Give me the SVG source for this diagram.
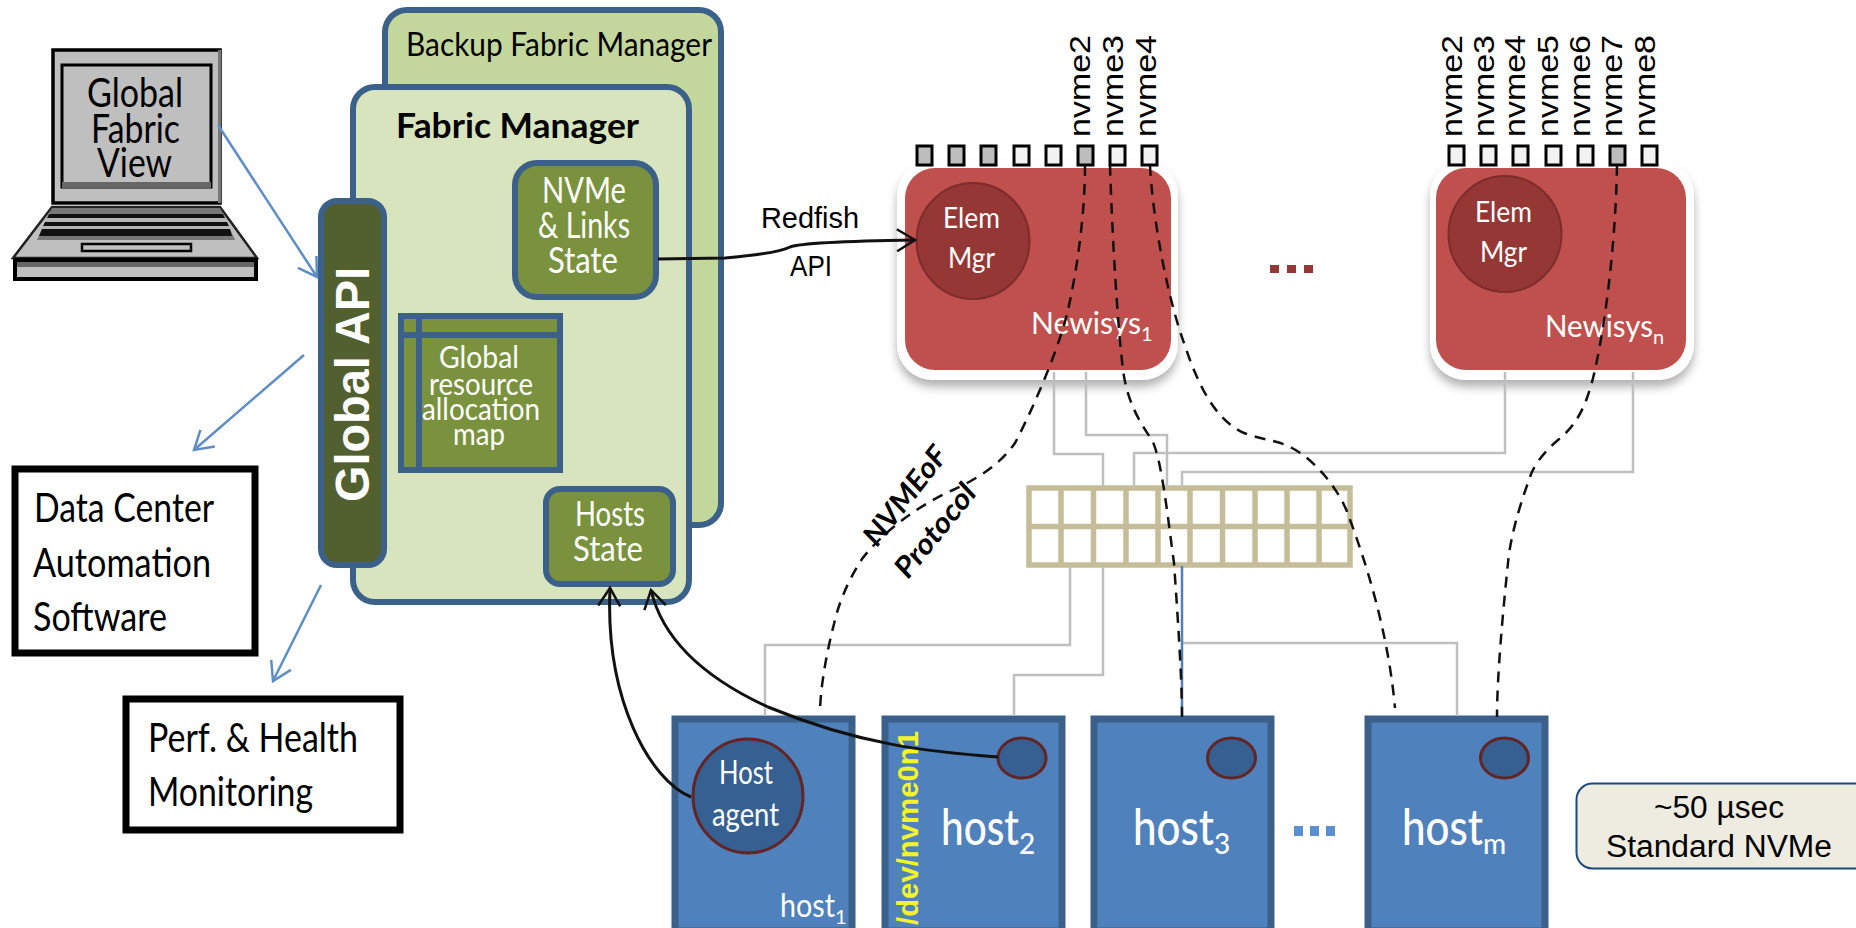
<svg xmlns="http://www.w3.org/2000/svg" width="1856" height="928" viewBox="0 0 1856 928">
<style>
text{font-family:"Lato","Liberation Sans",sans-serif}
.k{fill:#000}.w{fill:#fff}
.box{stroke:#3b6089;stroke-width:6}
.g{fill:#7a923e}
.gray{fill:none;stroke:#bfbfbf;stroke-width:2.5}
.dash{fill:none;stroke:#111;stroke-width:2.5;stroke-dasharray:11 8}
.blue{fill:none;stroke:#5f8ec6;stroke-width:2.5;marker-end:url(#ab)}
.blk{fill:none;stroke:#111;stroke-width:3;marker-end:url(#ak)}
.sq{fill:#f2f2f2;stroke:#000;stroke-width:3}
.sq .d{fill:#bdbdbd}
.nv{font-family:"Liberation Sans",sans-serif;font-size:30px;fill:#000}
.host{fill:#4f81bd;stroke:#3b6089;stroke-width:7}
.c{fill:#376092;stroke:#632523;stroke-width:3}
.halo{fill:#fff;filter:url(#sh)}
.red{fill:#c0504d}
.rc{fill:#953735;stroke:#7d2d2b;stroke-width:2}
.sw{fill:none;stroke:#c4bd97;stroke-width:5.5}
.blackbox{fill:#fff;stroke:#000;stroke-width:7}
</style>
<defs>
<filter id="sh" x="-10%" y="-10%" width="120%" height="125%"><feDropShadow dx="0" dy="7" stdDeviation="5" flood-color="#000" flood-opacity="0.3"/></filter>
<marker id="ab" markerUnits="userSpaceOnUse" markerWidth="30" markerHeight="30" refX="20" refY="12" orient="auto"><path d="M2 1 L20 12 L2 23" fill="none" stroke="#5f8ec6" stroke-width="2.5"/></marker>
<marker id="ak" markerUnits="userSpaceOnUse" markerWidth="30" markerHeight="30" refX="20" refY="12" orient="auto"><path d="M2 1 L20 12 L2 23" fill="none" stroke="#111" stroke-width="2.5"/></marker>
</defs>

<g id="laptop">
<rect x="53" y="50" width="167" height="153" fill="#bfbfbf" stroke="#000" stroke-width="3.5"/>
<rect x="218" y="50" width="3" height="153" fill="#777"/>
<rect x="62" y="65" width="149" height="122" fill="#bfbfbf" stroke="#000" stroke-width="3"/>
<rect x="62" y="182" width="149" height="6" fill="#666"/>
<path d="M52 207H220L257 258H13Z" fill="#bfbfbf" stroke="#222" stroke-width="2.5"/>
<path d="M52 208H220L235 240H37Z" fill="#777"/>
<path d="M49 214H223L225 218H47Z M45 222H227L229 226H43Z" fill="#111"/>
<path d="M42 229H230L232 236H39Z" fill="#111"/>
<path d="M46 218H226L227 222H45Z M43 226H229L230 229H42Z" fill="#b5b5b5"/>
<rect x="82" y="244" width="109" height="7" fill="#bfbfbf" stroke="#000" stroke-width="2.5"/>
<rect x="15" y="260" width="241" height="19" fill="#bfbfbf" stroke="#000" stroke-width="4"/>
<rect x="17" y="262" width="237" height="5" fill="#666"/>
<text font-size="40" class="k"><tspan x="87" y="107" textLength="96" lengthAdjust="spacingAndGlyphs">Global</tspan><tspan x="91" y="143" textLength="89" lengthAdjust="spacingAndGlyphs">Fabric</tspan><tspan x="97" y="177" textLength="75" lengthAdjust="spacingAndGlyphs">View</tspan></text>
</g>

<g id="backup-fabric-manager">
<rect x="385" y="10" width="336" height="515" rx="22" fill="#c3d69b" class="box"/>
<text x="406" y="56" font-size="33" class="k" textLength="306" lengthAdjust="spacingAndGlyphs">Backup Fabric Manager</text>
</g>

<g id="fabric-manager">
<rect x="353" y="87" width="336" height="515" rx="22" fill="#d7e4bd" class="box"/>
<text x="396" y="138" font-size="35" font-weight="700" class="k" textLength="243" lengthAdjust="spacingAndGlyphs">Fabric Manager</text>
</g>

<g id="nvme-links-state">
<rect x="515" y="163" width="141" height="134" rx="22" class="g box"/>
<text font-size="36" class="w"><tspan x="542" y="203" textLength="84" lengthAdjust="spacingAndGlyphs">NVMe</tspan><tspan x="538" y="238" textLength="92" lengthAdjust="spacingAndGlyphs">&amp; Links</tspan><tspan x="548" y="273" textLength="70" lengthAdjust="spacingAndGlyphs">State</tspan></text>
</g>

<g id="global-resource-allocation-map">
<rect x="401" y="316" width="159" height="154" class="g box" stroke-width="5"/>
<path d="M401 335H560M419 316V470" fill="none" class="box" stroke-width="5"/>
<text font-size="30" class="w"><tspan x="439" y="368" textLength="80" lengthAdjust="spacingAndGlyphs">Global</tspan><tspan x="429" y="395" textLength="104" lengthAdjust="spacingAndGlyphs">resource</tspan><tspan x="422" y="420" textLength="118" lengthAdjust="spacingAndGlyphs">allocation</tspan><tspan x="453" y="445" textLength="52" lengthAdjust="spacingAndGlyphs">map</tspan></text>
</g>

<g id="hosts-state">
<rect x="546" y="489" width="127" height="95" rx="14" class="g box"/>
<text font-size="34" class="w"><tspan x="575" y="526" textLength="70" lengthAdjust="spacingAndGlyphs">Hosts</tspan><tspan x="573" y="561" textLength="70" lengthAdjust="spacingAndGlyphs">State</tspan></text>
</g>

<g id="global-api">
<rect x="321" y="201" width="63" height="364" rx="16" fill="#525f2e" class="box"/>
<text transform="translate(369 502) rotate(-90)" style="font-family:'Liberation Sans',sans-serif" font-weight="700" font-size="48" class="w" textLength="235" lengthAdjust="spacingAndGlyphs">Global API</text>
</g>

<g id="data-center">
<rect x="15" y="469" width="240" height="184" class="blackbox"/>
<text x="34" y="522" font-size="40" class="k" textLength="180" lengthAdjust="spacingAndGlyphs">Data Center</text>
<text x="33" y="577" font-size="40" class="k" textLength="178" lengthAdjust="spacingAndGlyphs">Automation</text>
<text x="33" y="631" font-size="40" class="k" textLength="134" lengthAdjust="spacingAndGlyphs">Software</text>
</g>

<g id="perf-health">
<rect x="126" y="699" width="274" height="131" class="blackbox"/>
<text x="148" y="752" font-size="40" class="k" textLength="210" lengthAdjust="spacingAndGlyphs">Perf. &amp; Health</text>
<text x="148" y="806" font-size="40" class="k" textLength="165" lengthAdjust="spacingAndGlyphs">Monitoring</text>
</g>

<g id="newisys-1">
<rect x="897" y="160" width="281" height="220" rx="36" class="halo"/>
<rect x="905" y="168" width="266" height="202" rx="30" class="red"/>
<ellipse cx="973" cy="241" rx="56.500" ry="58" class="rc"/>
<text x="943" y="228" font-size="29" class="w" textLength="57" lengthAdjust="spacingAndGlyphs">Elem</text>
<text x="948" y="268" font-size="29" class="w" textLength="47" lengthAdjust="spacingAndGlyphs">Mgr</text>
<text x="1031" y="334" font-size="31" class="w"><tspan textLength="110" lengthAdjust="spacingAndGlyphs">Newisys</tspan><tspan dy="7" font-size="20">1</tspan></text>
<g class="sq">
<rect class="d" x="917" y="146" width="15" height="19"/><rect class="d" x="949" y="146" width="15" height="19"/><rect class="d" x="981" y="146" width="15" height="19"/><rect x="1014" y="146" width="15" height="19"/><rect x="1046" y="146" width="15" height="19"/><rect class="d" x="1078" y="146" width="15" height="19"/><rect x="1110" y="146" width="15" height="19"/><rect x="1142" y="146" width="15" height="19"/>
</g>
<text class="nv" transform="translate(1090 137) rotate(-90)" textLength="102" lengthAdjust="spacingAndGlyphs">nvme2</text>
<text class="nv" transform="translate(1123 137) rotate(-90)" textLength="102" lengthAdjust="spacingAndGlyphs">nvme3</text>
<text class="nv" transform="translate(1156 137) rotate(-90)" textLength="102" lengthAdjust="spacingAndGlyphs">nvme4</text>
</g>

<g id="newisys-n">
<rect x="1430" y="160" width="264" height="220" rx="36" class="halo"/>
<rect x="1436" y="168" width="250" height="202" rx="30" class="red"/>
<ellipse cx="1505" cy="234" rx="56.500" ry="58" class="rc"/>
<text x="1475" y="222" font-size="29" class="w" textLength="57" lengthAdjust="spacingAndGlyphs">Elem</text>
<text x="1480" y="262" font-size="29" class="w" textLength="47" lengthAdjust="spacingAndGlyphs">Mgr</text>
<text x="1545" y="337" font-size="31" class="w"><tspan textLength="108" lengthAdjust="spacingAndGlyphs">Newisys</tspan><tspan dy="7" font-size="20">n</tspan></text>
<g class="sq">
<rect x="1449" y="146" width="15" height="19"/><rect x="1481" y="146" width="15" height="19"/><rect x="1513" y="146" width="15" height="19"/><rect x="1546" y="146" width="15" height="19"/><rect x="1578" y="146" width="15" height="19"/><rect class="d" x="1610" y="146" width="15" height="19"/><rect x="1642" y="146" width="15" height="19"/>
</g>
<text class="nv" transform="translate(1462 137) rotate(-90)" textLength="102" lengthAdjust="spacingAndGlyphs">nvme2</text>
<text class="nv" transform="translate(1494 137) rotate(-90)" textLength="102" lengthAdjust="spacingAndGlyphs">nvme3</text>
<text class="nv" transform="translate(1525 137) rotate(-90)" textLength="102" lengthAdjust="spacingAndGlyphs">nvme4</text>
<text class="nv" transform="translate(1558 137) rotate(-90)" textLength="102" lengthAdjust="spacingAndGlyphs">nvme5</text>
<text class="nv" transform="translate(1590 137) rotate(-90)" textLength="102" lengthAdjust="spacingAndGlyphs">nvme6</text>
<text class="nv" transform="translate(1622 137) rotate(-90)" textLength="102" lengthAdjust="spacingAndGlyphs">nvme7</text>
<text class="nv" transform="translate(1655 137) rotate(-90)" textLength="102" lengthAdjust="spacingAndGlyphs">nvme8</text>
</g>

<g id="ellipsis-red" fill="#953735">
<rect x="1270" y="265" width="9" height="8"/><rect x="1287" y="265" width="9" height="8"/><rect x="1304" y="265" width="9" height="8"/>
</g>

<g id="switch">
<rect x="1029" y="488" width="321" height="77" class="sw"/>
<path class="sw" d="M1029 526.500H1350M1061 488V565M1093.500 488V565M1126 488V565M1158 488V565M1190 488V565M1222.500 488V565M1255 488V565M1287 488V565M1319 488V565"/>
</g>

<g id="host-1">
<rect x="675" y="719" width="177" height="212" class="host"/>
<ellipse cx="748" cy="796" rx="55" ry="57" class="c"/>
<text font-size="32" class="w"><tspan x="719" y="784" textLength="54" lengthAdjust="spacingAndGlyphs">Host</tspan><tspan x="712" y="826" textLength="67" lengthAdjust="spacingAndGlyphs">agent</tspan></text>
<text x="780" y="917" font-size="33" class="w"><tspan textLength="55" lengthAdjust="spacingAndGlyphs">host</tspan><tspan dy="7" font-size="20">1</tspan></text>
</g>
<g id="host-2">
<rect x="885" y="719" width="177" height="212" class="host"/>
<ellipse cx="1022" cy="758" rx="24" ry="20" class="c"/>
<text x="941" y="845" font-size="50" font-weight="500" class="w"><tspan textLength="78" lengthAdjust="spacingAndGlyphs">host</tspan><tspan dy="9" font-size="28">2</tspan></text>
<text transform="translate(918 925) rotate(-90)" style="font-family:'Liberation Sans',sans-serif" font-size="30" font-weight="700" fill="#f3f32a" textLength="194" lengthAdjust="spacingAndGlyphs">/dev/nvme0n1</text>
</g>
<g id="host-3">
<rect x="1094" y="719" width="177" height="212" class="host"/>
<ellipse cx="1231.500" cy="758" rx="24" ry="20" class="c"/>
<text x="1133" y="845" font-size="50" font-weight="500" class="w"><tspan textLength="81" lengthAdjust="spacingAndGlyphs">host</tspan><tspan dy="9" font-size="28">3</tspan></text>
</g>
<g id="host-m">
<rect x="1368" y="719" width="177" height="212" class="host"/>
<ellipse cx="1504.500" cy="758" rx="24" ry="20" class="c"/>
<text x="1402" y="845" font-size="50" font-weight="500" class="w"><tspan textLength="81" lengthAdjust="spacingAndGlyphs">host</tspan><tspan dy="9" font-size="28">m</tspan></text>
</g>
<g id="ellipsis-blue" fill="#5b8fd0">
<rect x="1294" y="826" width="9" height="10"/><rect x="1310" y="826" width="9" height="10"/><rect x="1326" y="826" width="9" height="10"/>
</g>

<g id="latency-note">
<rect x="1576.500" y="783.500" width="300" height="85" rx="16" fill="#eeece1" stroke="#1f497d" stroke-width="2"/>
<text x="1654" y="818" style="font-family:'Liberation Sans',sans-serif" font-size="31" class="k" textLength="130" lengthAdjust="spacingAndGlyphs">~50 µsec</text>
<text x="1606" y="857" style="font-family:'Liberation Sans',sans-serif" font-size="31" class="k" textLength="226" lengthAdjust="spacingAndGlyphs">Standard NVMe</text>
</g>

<g id="connectors">
<path class="gray" d="M1054 372V454H1103V487"/>
<path class="gray" d="M1086 372V435H1167V487"/>
<path class="gray" d="M1505 372V453H1134V487"/>
<path class="gray" d="M1633 372V472H1182V487"/>
<path class="gray" d="M1070 566V645H765V716"/>
<path class="gray" d="M1103 566V675H1014V716"/>
<path class="gray" d="M1182 643H1457V716"/>
<path fill="none" stroke="#4f81bd" stroke-width="2.500" d="M1182 566V716"/>
<path class="dash" d="M1085 165C1085 215 1077 270 1068 310C1060 345 1035 405 1015 443C1000 465 975 480 953 490C915 507 880 535 862 559C845 585 837 610 834 624C826 655 820 690 820 714"/>
<path class="dash" d="M1110 165C1112 230 1117 320 1123 370C1127 400 1138 420 1152 440C1162 460 1168 520 1174 563C1178 620 1182 680 1182 717"/>
<path class="dash" d="M1150 165C1152 210 1165 290 1184 343C1198 385 1215 420 1244 433C1262 440 1278 440 1292 448C1315 460 1340 490 1349 517C1365 560 1388 630 1395 708"/>
<path class="dash" d="M1617 165C1616 230 1608 310 1595 370C1587 405 1577 425 1558 440C1540 455 1532 470 1530 477C1518 510 1510 540 1508 563C1502 620 1497 680 1497 717"/>
<path class="blue" d="M218 125L317 277"/>
<path class="blue" d="M304 355L194 450"/>
<path class="blue" d="M321 585L273 681"/>
<path class="blk" d="M658 259L725 258C760 255 780 252 790 247C800 243 850 241 915 240"/>
<path class="blk" d="M691 797C650 780 605 700 610 588"/>
<path class="blk" d="M998 757C930 752 860 745 768 707C720 685 665 650 651 590"/>
<text x="761" y="228" style="font-family:'Liberation Sans',sans-serif" font-size="29" class="k" textLength="98" lengthAdjust="spacingAndGlyphs">Redfish</text>
<text x="790" y="276" style="font-family:'Liberation Sans',sans-serif" font-size="29" class="k" textLength="42" lengthAdjust="spacingAndGlyphs">API</text>
<text transform="translate(877 548) rotate(-52)" font-size="29" font-style="italic" font-weight="700" class="k" textLength="117" lengthAdjust="spacingAndGlyphs">NVMEoF</text>
<text transform="translate(908 580) rotate(-51)" font-size="29" font-style="italic" font-weight="700" class="k" textLength="111" lengthAdjust="spacingAndGlyphs">Protocol</text>
</g>
</svg>
